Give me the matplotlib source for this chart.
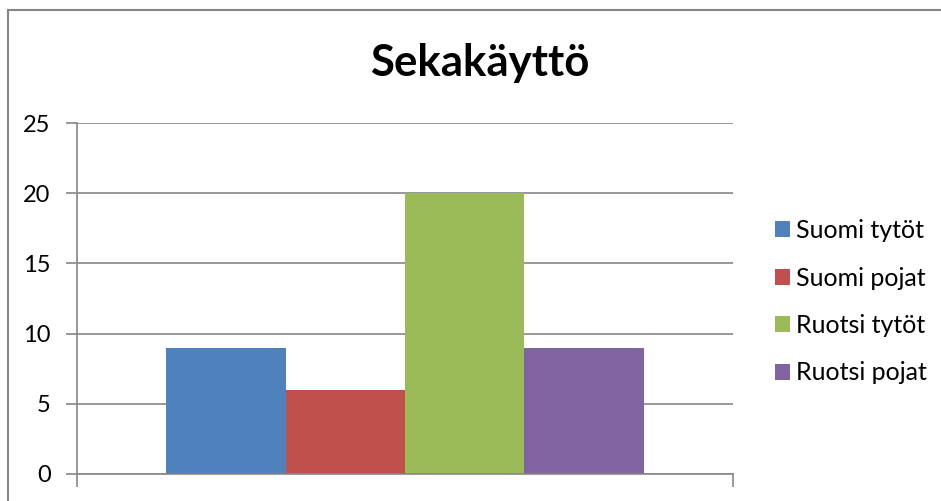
"""
Sekakäyttö: pylväsdiagrammi, Excel-tyylinen.
Tallentaa kuvan out.png.
"""

import matplotlib
matplotlib.use("Agg")
import matplotlib.pyplot as plt
from matplotlib.patches import Rectangle

series = ["Suomi tytöt", "Suomi pojat", "Ruotsi tytöt", "Ruotsi pojat"]
values = [9, 6, 20, 9]
colors = ["#4F81BD", "#C0504D", "#9BBB59", "#8064A2"]
yticks = [0, 5, 10, 15, 20, 25]

plt.rcParams["font.family"] = ["Lato", "DejaVu Sans"]
GRID = "#868686"

W, H = 941, 501
fig = plt.figure(figsize=(W / 100, H / 100), dpi=100)
ax = fig.add_axes([77 / W, (H - 474) / H, (733 - 77) / W, (474 - 123) / H])

# yksi kategoria, neljä sarjaa, välin leveys 150 %
bw = 1 / 5.5
start = 0.75 * bw
for i, (name, v, c) in enumerate(zip(series, values, colors)):
    ax.bar(start + i * bw, v, width=bw, align="edge", color=c, label=name, zorder=3)

ax.set_xlim(0, 1)
ax.set_ylim(0, 25)
ax.set_yticks(yticks)
ax.set_xticks([0, 1])
ax.set_xticklabels([])
ax.yaxis.grid(True, color=GRID, linewidth=1.2, zorder=0)
for s in ["top", "right"]:
    ax.spines[s].set_visible(False)
for s in ["left", "bottom"]:
    ax.spines[s].set_color(GRID)
    ax.spines[s].set_linewidth(1.2)
    ax.spines[s].set_zorder(4)
ax.tick_params(axis="y", length=8, width=1.2, color=GRID, labelsize=17, pad=11)
ax.tick_params(axis="x", length=9, width=1.2, color=GRID)

fig.text(480 / W, 1 - 63 / H, "Sekakäyttö", ha="center", va="center",
         fontsize=31.5, fontweight="bold")

ax.legend(loc="upper left", bbox_to_anchor=(775 / W, 1 - 219 / H),
          bbox_transform=fig.transFigure, frameon=False, fontsize=18,
          handlelength=0.6, handleheight=0.6, handletextpad=0.25,
          labelspacing=0.98, borderaxespad=0, borderpad=0)

# kuvan kehys
fig.patches.append(Rectangle((8 / W, -0.05), 1.1, 1 - 10 / H + 0.05,
                             transform=fig.transFigure, fill=False,
                             edgecolor=GRID, linewidth=1.5))

fig.savefig("out.png", dpi=100)
plt.close()
